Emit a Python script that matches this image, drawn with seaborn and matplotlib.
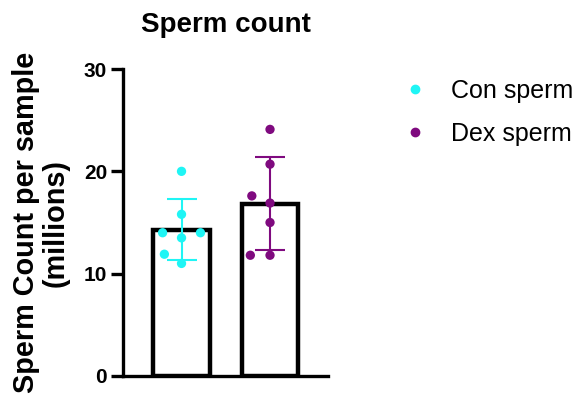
import numpy as np
import pandas as pd
import matplotlib
matplotlib.use("Agg")
import matplotlib.pyplot as plt
import seaborn as sns
from matplotlib.lines import Line2D

# Sperm counts per sample (millions)
groups = ["Con sperm", "Dex sperm"]
con_counts = [20.0, 15.8, 14.0, 14.0, 13.5, 11.9, 11.0]
dex_counts = [24.1, 20.7, 17.6, 16.9, 15.0, 11.8, 11.8]
colors = ["#1ff5f5", "#7f0a7f"]
yticks = [0, 10, 20, 30]

df = pd.DataFrame({
    "group": [groups[0]] * len(con_counts) + [groups[1]] * len(dex_counts),
    "count": con_counts + dex_counts,
})

sns.set_theme(style="ticks")
plt.rcParams["font.family"] = ["Liberation Sans", "DejaVu Sans"]
for key in ["text.color", "axes.labelcolor", "xtick.color", "ytick.color"]:
    plt.rcParams[key] = "black"

fig = plt.figure(figsize=(5.73, 3.98), dpi=100)
ax = fig.add_axes([0.2147, 0.0553, 0.3577, 0.7713])

sns.barplot(data=df, x="group", y="count", order=groups, errorbar=None,
            color="white", edgecolor="black", linewidth=3.2, width=0.64, ax=ax)

# mean ± SD error bars in the group colours
for i, g in enumerate(groups):
    vals = df.loc[df.group == g, "count"].to_numpy()
    ax.errorbar(i, vals.mean(), yerr=vals.std(ddof=1), color=colors[i],
                capsize=10.5, elinewidth=1.5, capthick=1.5, zorder=3)

# an invisible wide edge keeps the swarm loosely spaced
sns.swarmplot(data=df, x="group", y="count", order=groups, hue="group",
              palette=colors, size=6.7, linewidth=6.8, edgecolor="none",
              ax=ax, legend=False, zorder=4)

ax.set_xlim(-0.661, 1.655)
ax.set_ylim(0, 30)
ax.set_yticks(yticks)
ax.set_yticklabels([str(t) for t in yticks], fontsize=15, fontweight="bold")
ax.set_xticks([])
ax.set_xlabel("")
ax.set_ylabel("Sperm Count per sample\n(millions)", fontsize=20.8,
              fontweight="bold", labelpad=10, linespacing=1.1)
ax.set_title("Sperm count", fontsize=20, fontweight="bold", pad=27)
ax.tick_params(axis="y", length=8.5, width=2.4, direction="out", pad=3)
for side in ["top", "right"]:
    ax.spines[side].set_visible(False)
for side in ["left", "bottom"]:
    ax.spines[side].set_linewidth(2.4)
    ax.spines[side].set_color("black")

handles = [Line2D([], [], marker="o", linestyle="", color=c, markersize=6)
           for c in colors]
leg = fig.legend(handles, groups, loc="upper left", bbox_to_anchor=(0.665, 0.858),
                 frameon=False, handlelength=0.9, handletextpad=1.0,
                 labelspacing=0.76, prop={"size": 18, "weight": "normal"})

fig.savefig("out.png", dpi=100)
